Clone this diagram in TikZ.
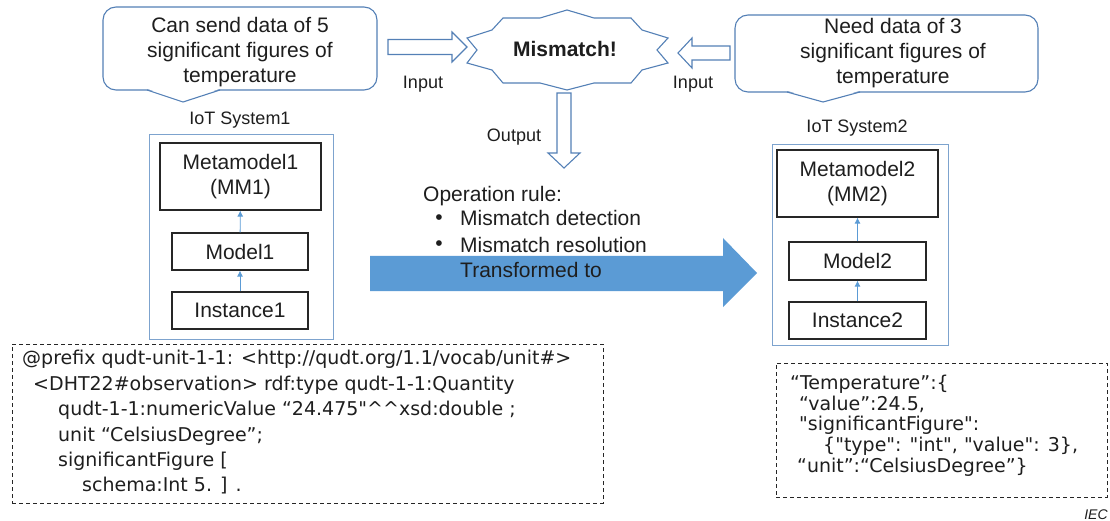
\documentclass[tikz,border=0pt]{standalone}
\usepackage{fontspec}
\setmainfont{Liberation Sans}
\newfontfamily\codefont{DejaVu Sans}
\usetikzlibrary{arrows.meta}
\definecolor{cborder}{RGB}{84,128,182}
\definecolor{sysborder}{RGB}{125,163,206}
\definecolor{arrowblue}{RGB}{91,155,213}
\definecolor{txt}{RGB}{30,30,30}
\begin{document}
\begin{tikzpicture}[x=1pt,y=-1pt,
  every node/.style={text=txt, inner sep=0pt},
  big/.style={font=\fontsize{21}{25}\selectfont},
  bigw/.style={big, anchor=west, text height=15pt, text depth=5pt},
  lab/.style={font=\fontsize{18}{21}\selectfont},
  code/.style={font=\codefont\fontsize{19}{23}\selectfont, anchor=west, text height=15pt, text depth=5pt},
  callout/.style={draw=cborder, line width=1.1pt, rounded corners=13pt, fill=white},
  hollow/.style={draw=cborder, line width=1.1pt, fill=white, line join=miter},
  sysbox/.style={draw=sysborder, line width=1pt},
  inbox/.style={draw=black!85, line width=1.2pt, big, align=center},
  up/.style={-{Latex[length=6pt,width=6pt]}, draw=arrowblue, line width=0.8pt},
  codebox/.style={draw=black!85, line width=0.9pt, dash pattern=on 4pt off 3pt}]

\useasboundingbox (0,0) rectangle (1110,521);

% callouts
\node[callout, minimum width=274pt, minimum height=83pt] (call1) at (240,48.5) {};
\fill[white] (147,88.6) -- (220,88.6) -- (183,102) -- cycle;
\draw[cborder, line width=1.1pt] (147,90) -- (183,102) -- (220,90);
\node[big, align=center] (t1) at (240,52) {Can send data of 5\\significant figures of\\temperature};

\node[callout, minimum width=303pt, minimum height=77pt] (call2) at (886.5,53.5) {};
\fill[white] (787,90.6) -- (860,90.6) -- (823,102) -- cycle;
\draw[cborder, line width=1.1pt] (787,92) -- (823,102) -- (860,92);
\node[big, align=center] (t2) at (893,53) {Need data of 3\\significant figures of\\temperature};

% mismatch star
\draw[hollow] (503,18) -- (540,18) -- (567,10) -- (594,18) -- (631,18) -- (642,30) -- (668,38) -- (657,50) -- (668,63) -- (642,70) -- (631,83) -- (594,83) -- (567,90) -- (540,83) -- (503,83) -- (492,70) -- (467,63) -- (477,50) -- (467,38) -- (492,30) -- cycle;
\node[font=\bfseries\fontsize{21}{25}\selectfont] (mis) at (565,49) {Mismatch!};

% hollow block arrows
\draw[hollow] (388,39.5) -- (452,39.5) -- (452,32) -- (467,47) -- (452,62) -- (452,54.5) -- (388,54.5) -- cycle;
\draw[hollow] (730,46) -- (692,46) -- (692,38) -- (678,53) -- (692,68) -- (692,60) -- (730,60) -- cycle;
\draw[hollow] (557,93) -- (571,93) -- (571,153) -- (580,153) -- (564,168) -- (548,153) -- (557,153) -- cycle;

\node[lab] (in1) at (423,84) {Input};
\node[lab] (in2) at (693,84) {Input};
\node[lab] (out) at (514,137) {Output};

% IoT System1
\node[lab] (s1lab) at (240,120) {IoT System1};
\node[sysbox, minimum width=184pt, minimum height=204pt] (sys1) at (241,237) {};
\node[inbox, minimum width=161pt, minimum height=67pt] (mm1) at (240.5,176.5) {Metamodel1\\(MM1)};
\node[inbox, minimum width=136pt, minimum height=37pt] (m1) at (240,251.5) {Model1};
\node[inbox, minimum width=136pt, minimum height=37pt] (i1) at (240,310.5) {Instance1};
\draw[up] (m1) -- (mm1);
\draw[up] (i1) -- (m1);

% IoT System2
\node[lab] (s2lab) at (857,128) {IoT System2};
\node[sysbox, minimum width=176pt, minimum height=200pt] (sys2) at (860,245) {};
\node[inbox, minimum width=161pt, minimum height=67pt] (mm2) at (857.5,183.5) {Metamodel2\\(MM2)};
\node[inbox, minimum width=137pt, minimum height=38pt] (m2) at (857.5,261) {Model2};
\node[inbox, minimum width=137pt, minimum height=37pt] (i2) at (857.5,320.5) {Instance2};
\draw[up] (m2) -- (mm2);
\draw[up] (i2) -- (m2);

% big transform arrow
\fill[arrowblue] (370,256) -- (723,256) -- (723,238) -- (757,273) -- (723,307) -- (723,291) -- (370,291) -- cycle;
\node[bigw] (op) at (423,197) {Operation rule:};
\node[big] (b1) at (439,220) {\textbullet};
\node[big] (b2) at (439,246) {\textbullet};
\node[bigw] (d1) at (460,221) {Mismatch detection};
\node[bigw] (d2) at (460,247) {Mismatch resolution};
\node[bigw] (tr) at (460,272) {Transformed to};

% left code box
\node[codebox, minimum width=591pt, minimum height=159pt] (code1) at (307.5,423.5) {};
\node[code] (c11) at (22,359) {@prefix qudt-unit-1-1: <http://qudt.org/1.1/vocab/unit\#>};
\node[code] (c12) at (33,385) {<DHT22\#observation> rdf:type qudt-1-1:Quantity};
\node[code] (c13) at (58,410) {qudt-1-1:numericValue “24.475"\textasciicircum\textasciicircum xsd:double ;};
\node[code] (c14) at (58,436) {unit “CelsiusDegree”;};
\node[code] (c15) at (58,461) {significantFigure [};
\node[code] (c16) at (82,486) {schema:Int 5. ] .};

% right code box
\node[codebox, minimum width=331pt, minimum height=134pt] (code2) at (941.5,430) {};
\node[code] (c21) at (790,384) {“Temperature”:\{};
\node[code] (c22) at (799,405) {“value”:24.5,};
\node[code] (c23) at (799,425) {"significantFigure":};
\node[code] (c24) at (823,446) {\{"type": "int", "value": 3\},};
\node[code] (c25) at (797,467) {“unit”:“CelsiusDegree”\}};

\node[font=\itshape\fontsize{14}{16}\selectfont] (iec) at (1096,515) {IEC};
\end{tikzpicture}
\end{document}
